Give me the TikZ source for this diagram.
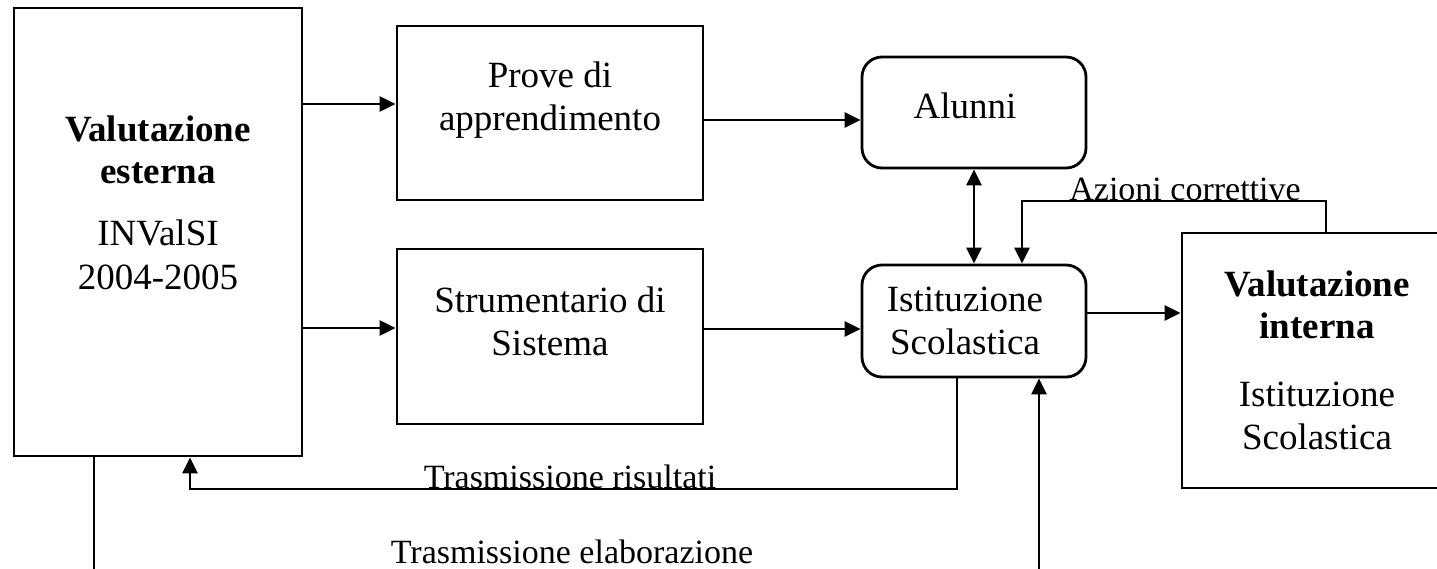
\documentclass[tikz,border=0pt]{standalone}
\usepackage{fontspec}
\setmainfont{Liberation Serif}
\usetikzlibrary{arrows.meta}
\begin{document}
\begin{tikzpicture}[x=1pt,y=-1pt,
  box/.style={draw,line width=2.8pt,rectangle,inner sep=0pt},
  rbox/.style={box,rounded corners=20pt},
  txt/.style={inner sep=0pt,font=\fontsize{37}{43}\selectfont,align=center},
  btxt/.style={txt,font=\fontsize{37}{42}\selectfont\bfseries},
  lbl/.style={inner sep=0pt,font=\fontsize{34}{38}\selectfont},
  conn/.style={line width=2.6pt},
  arr/.style={conn,-{Triangle[length=16pt,width=15pt]}},
  darr/.style={conn,{Triangle[length=16pt,width=15pt]}-{Triangle[length=16pt,width=15pt]}}]
\useasboundingbox (0,0) rectangle (1437,568);
\clip (0,0) rectangle (1437,568);
% boxes
\node[box,minimum width=288pt,minimum height=448pt] (ve) at (158,232) {};
\node[box,minimum width=306pt,minimum height=174pt] (pa) at (550,113) {};
\node[box,minimum width=306pt,minimum height=175pt] (ss) at (550,336.5) {};
\node[rbox,minimum width=224pt,minimum height=111pt] (al) at (974,112.5) {};
\node[rbox,minimum width=224pt,minimum height=112pt] (is) at (974,321) {};
\node[box,minimum width=270pt,minimum height=255pt] (vi) at (1317,360.5) {};
% texts
\node[btxt] (t1) at (158,150) {Valutazione\\esterna};
\node[txt] (t2) at (158,233) {INValSI};
\node[txt] (t3) at (158,277) {2004-2005};
\node[txt] (t4) at (550,100) {Prove di\\apprendimento};
\node[txt] (t5) at (550,321) {Strumentario di\\Sistema};
\node[txt] (t6) at (965,106) {Alunni};
\node[txt] (t7) at (965,321) {Istituzione\\Scolastica};
\node[btxt] (t8) at (1317,305) {Valutazione\\interna};
\node[txt] (t9) at (1317,416) {Istituzione\\Scolastica};
% connectors
\draw[arr] (ve.east|-0,104) -- (pa.west|-0,104);
\draw[arr] (ve.east|-0,328) -- (ss.west|-0,328);
\draw[arr] (pa.east|-0,120) -- (al.west|-0,120);
\draw[arr] (ss.east|-0,329) -- (is.west|-0,329);
\draw[darr] (al.south) -- (is.north);
\draw[arr] (is.east|-0,313) -- (vi.west|-0,313);
\coordinate (c1) at (1326,201);
\coordinate (c2) at (1022,201);
\draw[arr] (vi.north-|c1) -- (c1) -- (c2) -- (is.north-|c2);
\coordinate (c3) at (957,489);
\coordinate (c4) at (190,489);
\draw[arr] (is.south-|c3) -- (c3) -- (c4) -- (ve.south-|c4);
\coordinate (c5) at (94,590);
\coordinate (c6) at (1039,590);
\draw[arr] (ve.south-|c5) -- (c5) -- (c6) -- (is.south-|c6);
% labels
\node[lbl,anchor=base] (l1) at (1185,200) {Azioni correttive};
\node[lbl,anchor=base] (l2) at (570,488) {Trasmissione risultati};
\node[lbl,anchor=base] (l3) at (572,563) {Trasmissione elaborazione};
\end{tikzpicture}
\end{document}
